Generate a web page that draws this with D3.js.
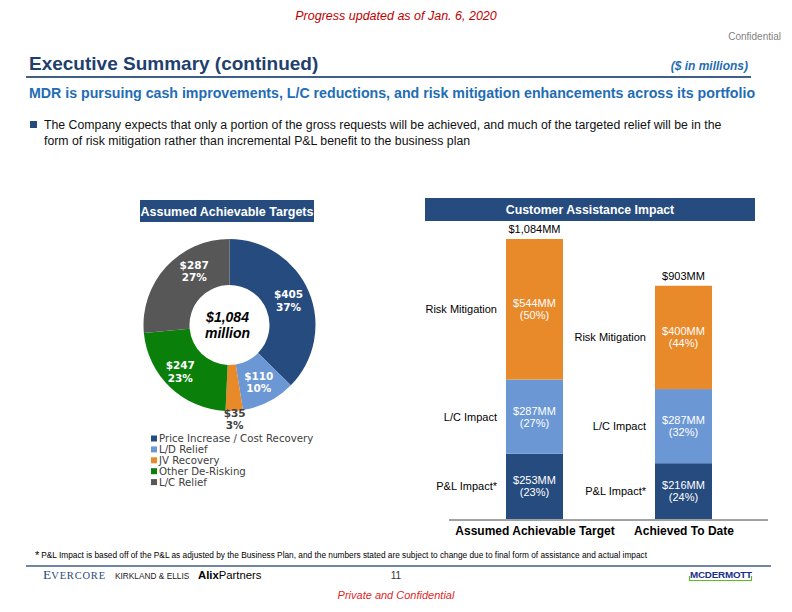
<!DOCTYPE html>
<html><head><meta charset="utf-8">
<script src="https://cdn.jsdelivr.net/npm/d3@7"></script>
<style>
html,body{margin:0;padding:0;background:#fff;}
svg{display:block;}
</style></head>
<body>
<svg id="chart" width="792" height="612"></svg>
<script>
// ---- Data ----
const donutCategories = ["Price Increase / Cost Recovery", "L/D Relief", "JV Recovery", "Other De-Risking", "L/C Relief"];
const donutValues = [405, 110, 35, 247, 287];
const donutPercents = ["37%", "10%", "3%", "23%", "27%"];
const donutTotalLabel = ["$1,084", "million"];

const barCategories = ["Assumed Achievable Target", "Achieved To Date"];
const segmentNames = ["P&L Impact*", "L/C Impact", "Risk Mitigation"];
const plValues = [253, 216];
const lcValues = [287, 287];
const riskValues = [544, 400];
const plPercents = ["(23%)", "(24%)"];
const lcPercents = ["(27%)", "(32%)"];
const riskPercents = ["(50%)", "(44%)"];
const barTotals = ["$1,084MM", "$903MM"];

// ---- Styles ----
const donutColors = ["#264b7e", "#6b97d4", "#e8892a", "#0a7f0a", "#575757"];
const segColors = ["#264b7e", "#6b97d4", "#e8892a"];
const SANS = "'Liberation Sans', Arial, sans-serif";
const VER = "'DejaVu Sans', Verdana, sans-serif";

const svg = d3.select("#chart");

// ---- Header ----
svg.append("text").attr("x", 396).attr("y", 20).attr("text-anchor", "middle")
  .attr("font-family", SANS).attr("font-style", "italic").attr("font-size", 12.5)
  .attr("fill", "#c00000").text("Progress updated as of Jan. 6, 2020");
svg.append("text").attr("x", 781).attr("y", 40).attr("text-anchor", "end")
  .attr("font-family", SANS).attr("font-size", 10).attr("fill", "#7f7f7f").text("Confidential");
svg.append("text").attr("x", 29).attr("y", 70)
  .attr("font-family", SANS).attr("font-weight", "bold").attr("font-size", 19)
  .attr("fill", "#1f3f6e").text("Executive Summary (continued)");
svg.append("text").attr("x", 748).attr("y", 70).attr("text-anchor", "end")
  .attr("font-family", SANS).attr("font-weight", "bold").attr("font-style", "italic").attr("font-size", 12)
  .attr("fill", "#1f6db5").text("($ in millions)");
svg.append("line").attr("x1", 26).attr("x2", 751).attr("y1", 77).attr("y2", 77)
  .attr("stroke", "#3f5f86").attr("stroke-width", 2);
svg.append("text").attr("x", 29).attr("y", 98)
  .attr("font-family", SANS).attr("font-weight", "bold").attr("font-size", 14.2)
  .attr("fill", "#1f6db5").text("MDR is pursuing cash improvements, L/C reductions, and risk mitigation enhancements across its portfolio");
svg.append("rect").attr("x", 30).attr("y", 121).attr("width", 7).attr("height", 7).attr("fill", "#264b7e");
const bt = svg.append("text").attr("font-family", SANS).attr("font-size", 12.3).attr("fill", "#111");
bt.append("tspan").attr("x", 44).attr("y", 129).text("The Company expects that only a portion of the gross requests will be achieved, and much of the targeted relief will be in the");
bt.append("tspan").attr("x", 44).attr("y", 145).text("form of risk mitigation rather than incremental P&L benefit to the business plan");

// ---- Donut ----
svg.append("rect").attr("x", 140).attr("y", 200).attr("width", 174).attr("height", 22).attr("fill", "#264b7e");
svg.append("text").attr("x", 227).attr("y", 215.5).attr("text-anchor", "middle")
  .attr("font-family", SANS).attr("font-weight", "bold").attr("font-size", 12.5)
  .attr("fill", "#fff").text("Assumed Achievable Targets");

const cx = 229.5, cy = 325, rOut = 86, rIn = 40;
const pie = d3.pie().sort(null).value(d => d)(donutValues);
const arc = d3.arc().innerRadius(rIn).outerRadius(rOut);
const g = svg.append("g").attr("transform", `translate(${cx},${cy})`);
g.selectAll("path.slice").data(pie).join("path").attr("class", "slice")
  .attr("d", arc).attr("fill", (d, i) => donutColors[i]);

const labelArc = d3.arc().innerRadius(64).outerRadius(64);
const outerArc = d3.arc().innerRadius(94).outerRadius(94);
const isSmall = d => (d.endAngle - d.startAngle) < 0.3;
const lab = g.selectAll("g.lab").data(pie).join("g").attr("class", "lab")
  .attr("transform", (d, i) => {
    let [x, y] = isSmall(d) ? outerArc.centroid(d) : labelArc.centroid(d);
    if (i === 4) { x += 12; y -= 11; }
    if (i === 3) { x -= 5; }
    return `translate(${x},${y})`;
  });
lab.append("text").attr("text-anchor", "middle").attr("y", -2)
  .attr("font-family", VER).attr("font-weight", "bold").attr("font-size", 10.5)
  .attr("fill", d => isSmall(d) ? "#404040" : "#fff")
  .text(d => "$" + d.data);
lab.append("text").attr("text-anchor", "middle").attr("y", 10.5)
  .attr("font-family", VER).attr("font-weight", "bold").attr("font-size", 10.5)
  .attr("fill", d => isSmall(d) ? "#404040" : "#fff")
  .text((d, i) => donutPercents[i]);

g.append("text").attr("text-anchor", "middle").attr("x", -2).attr("y", -3)
  .attr("font-family", SANS).attr("font-weight", "bold").attr("font-style", "italic").attr("font-size", 14)
  .attr("fill", "#000").text(donutTotalLabel[0]);
g.append("text").attr("text-anchor", "middle").attr("x", -2).attr("y", 13)
  .attr("font-family", SANS).attr("font-weight", "bold").attr("font-style", "italic").attr("font-size", 14)
  .attr("fill", "#000").text(donutTotalLabel[1]);

// legend
const leg = svg.append("g").attr("transform", "translate(151,442)");
const li = leg.selectAll("g").data(donutCategories).join("g")
  .attr("transform", (d, i) => `translate(0,${i * 10.9})`);
li.append("rect").attr("x", 0).attr("y", -6.5).attr("width", 6).attr("height", 6)
  .attr("fill", (d, i) => donutColors[i]);
li.append("text").attr("x", 8).attr("y", 0)
  .attr("font-family", VER).attr("font-size", 10.2).attr("fill", "#404040").text(d => d);

// ---- Stacked bars ----
svg.append("rect").attr("x", 425).attr("y", 198).attr("width", 330).attr("height", 23).attr("fill", "#264b7e");
svg.append("text").attr("x", 590).attr("y", 214).attr("text-anchor", "middle")
  .attr("font-family", SANS).attr("font-weight", "bold").attr("font-size", 12.3)
  .attr("fill", "#fff").text("Customer Assistance Impact");

const x = d3.scalePoint().domain(barCategories).range([534.5, 683.5]);
const y = d3.scaleLinear().domain([0, 1084]).range([519, 239]);
const barW = 57;

const rows = barCategories.map((c, i) => ({ cat: c, pl: plValues[i], lc: lcValues[i], risk: riskValues[i] }));
const stack = d3.stack().keys(["pl", "lc", "risk"])(rows);
const segVals = [plValues, lcValues, riskValues];
const segPct = [plPercents, lcPercents, riskPercents];

stack.forEach((layer, k) => {
  const lg = svg.append("g");
  lg.selectAll("rect").data(layer).join("rect")
    .attr("x", d => x(d.data.cat) - barW / 2)
    .attr("y", d => y(d[1]))
    .attr("width", barW)
    .attr("height", d => y(d[0]) - y(d[1]))
    .attr("fill", segColors[k]);
  lg.selectAll("text.v").data(layer).join("text").attr("class", "v")
    .attr("x", d => x(d.data.cat)).attr("y", d => (y(d[0]) + y(d[1])) / 2 - 2)
    .attr("text-anchor", "middle").attr("font-family", SANS).attr("font-size", 11)
    .attr("fill", "#fff").text((d, i) => "$" + segVals[k][i] + "MM");
  lg.selectAll("text.p").data(layer).join("text").attr("class", "p")
    .attr("x", d => x(d.data.cat)).attr("y", d => (y(d[0]) + y(d[1])) / 2 + 10)
    .attr("text-anchor", "middle").attr("font-family", SANS).attr("font-size", 11)
    .attr("fill", "#fff").text((d, i) => segPct[k][i]);
  lg.selectAll("text.n").data(layer).join("text").attr("class", "n")
    .attr("x", d => x(d.data.cat) - barW / 2 - 9).attr("y", d => (y(d[0]) + y(d[1])) / 2 + 4)
    .attr("text-anchor", "end").attr("font-family", SANS).attr("font-size", 11)
    .attr("fill", "#000").text(segmentNames[k]);
});

svg.selectAll("text.tot").data(barCategories).join("text").attr("class", "tot")
  .attr("x", d => x(d)).attr("y", (d, i) => y(plValues[i] + lcValues[i] + riskValues[i]) - 6)
  .attr("text-anchor", "middle").attr("font-family", SANS).attr("font-size", 11)
  .attr("fill", "#000").text((d, i) => barTotals[i]);

// baseline axis
const axis = svg.append("g").attr("transform", `translate(0,${y(0) + 1})`)
  .call(d3.axisBottom(x).tickSize(0).tickPadding(5));
axis.select(".domain").attr("d", "M449,0H768").attr("stroke", "#444").attr("stroke-width", 1);
axis.selectAll("text").attr("font-family", SANS).attr("font-weight", "bold").attr("font-size", 12).attr("fill", "#000")
  .attr("dy", "0.8em");

// ---- Footer ----
const fn = svg.append("text").attr("x", 35).attr("y", 558).attr("font-family", SANS).attr("font-size", 8.3).attr("fill", "#000");
fn.append("tspan").attr("font-size", 11).attr("dy", 1).text("*");
fn.append("tspan").attr("dx", 2).attr("dy", -1).text("P&L Impact is based off of the P&L as adjusted by the Business Plan, and the numbers stated are subject to change due to final form of assistance and actual impact");
svg.append("line").attr("x1", 26).attr("x2", 771).attr("y1", 566).attr("y2", 566).attr("stroke", "#3f5f86").attr("stroke-width", 1.5);

const ev = svg.append("text").attr("x", 43).attr("y", 579).attr("font-family", "'Liberation Serif', 'DejaVu Serif', serif")
  .attr("fill", "#2a4a7a");
ev.append("tspan").attr("font-size", 13.5).text("E");
ev.append("tspan").attr("font-size", 10.5).attr("letter-spacing", 0.8).text("VERCORE");
svg.append("text").attr("x", 115).attr("y", 578.5).attr("font-family", SANS).attr("font-size", 8.3)
  .attr("fill", "#222").text("KIRKLAND & ELLIS");
const alix = svg.append("text").attr("x", 198).attr("y", 579).attr("font-family", SANS).attr("font-size", 11.3)
  .attr("font-weight", "bold").attr("fill", "#000").text("Alix");
const alixW = alix.node().getComputedTextLength();
svg.append("text").attr("x", 198 + alixW).attr("y", 579).attr("font-family", SANS).attr("font-size", 11.3)
  .attr("fill", "#000").text("Partners");
svg.append("text").attr("x", 396).attr("y", 579).attr("text-anchor", "middle").attr("font-family", SANS).attr("font-size", 10).attr("fill", "#333").text("11");
svg.append("text").attr("x", 690).attr("y", 577.5).attr("font-family", SANS).attr("font-weight", "bold").attr("font-size", 9.8)
  .attr("letter-spacing", -0.2).attr("fill", "#1a2f8c").text("MCDERMOTT");
svg.append("path").attr("d", "M689.5,576V580.5H751.5V576").attr("fill", "none").attr("stroke", "#56c02b").attr("stroke-width", 1.2);
svg.append("text").attr("x", 396).attr("y", 599).attr("text-anchor", "middle").attr("font-family", SANS).attr("font-style", "italic").attr("font-size", 11).attr("fill", "#e01f1f").text("Private and Confidential");
</script>
</body></html>
